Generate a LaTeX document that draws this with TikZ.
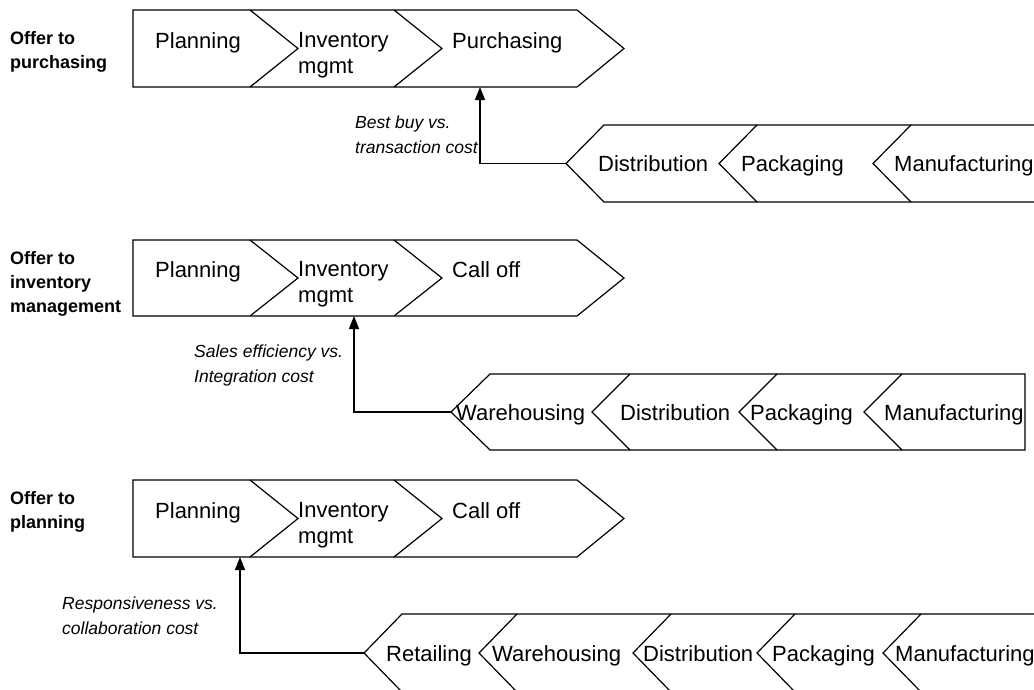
\documentclass[tikz,border=0pt]{standalone}
\usepackage{fontspec}
\setmainfont{Liberation Sans}
\usetikzlibrary{arrows.meta}

\begin{document}
\begin{tikzpicture}[x=1pt, y=-1pt,
  chain/.style={line width=1.2pt, line join=miter},
  upstage/.style={anchor=north west, inner sep=0pt, align=left, font=\fontsize{22}{26}\selectfont},
  downstage/.style={anchor=base west, inner sep=0pt, font=\fontsize{22}{26}\selectfont},
  offer/.style={anchor=north west, inner sep=0pt, align=left, font=\fontsize{18}{24}\selectfont\bfseries},
  trade/.style={anchor=north west, inner sep=0pt, align=left, font=\fontsize{17.5}{25}\selectfont\itshape},
  arr/.style={line width=1.2pt, -{Triangle[width=10pt,length=13pt]}}]
\useasboundingbox (0,0) rectangle (1034,689);
\clip (0,0) rectangle (1034,689);

% Row 1: offer to purchasing
\node[offer] (off1) at (10,31) {Offer to\\purchasing};
\draw[chain] (133,10) -- (577,10) -- (624,48.5) -- (577,87) -- (133,87) -- cycle;
\foreach \x in {250,394}
  \draw[chain] (\x,10) -- ++(48,38.5) -- ++(-48,38.5);
\node[upstage] (plan1) at (155,32) {Planning};
\node[upstage] (inv1) at (298,32) {Inventory\\mgmt};
\node[upstage] (purch1) at (452,32) {Purchasing};

\draw[chain] (1040,125) -- (604,125) -- (566,163.5) -- (604,202) -- (1040,202);
\foreach \x in {757,911}
  \draw[chain] (\x,125) -- ++(-38,38.5) -- ++(38,38.5);
\node[downstage] (dist1) at (598,171) {Distribution};
\node[downstage] (pack1) at (741,171) {Packaging};
\node[downstage] (manu1) at (894,171) {Manufacturing};

\coordinate (tip1) at (566,163.5);
\coordinate (hit1) at (480,87);
\draw[arr] (tip1) -| (hit1);
\node[trade] (cost1) at (355,116) {Best buy vs.\\transaction cost};

% Row 2: offer to inventory management
\node[offer] (off2) at (10,251) {Offer to\\inventory\\management};
\draw[chain] (133,240) -- (577,240) -- (624,278) -- (577,316) -- (133,316) -- cycle;
\foreach \x in {250,394}
  \draw[chain] (\x,240) -- ++(48,38) -- ++(-48,38);
\node[upstage] (plan2) at (155,261) {Planning};
\node[upstage] (inv2) at (298,261) {Inventory\\mgmt};
\node[upstage] (call2) at (452,261) {Call off};

\draw[chain] (1025,374) -- (490,374) -- (451,412) -- (490,450) -- (1025,450) -- cycle;
\foreach \x in {630,777,902}
  \draw[chain] (\x,374) -- ++(-38,38) -- ++(38,38);
\node[downstage] (ware2) at (456,420) {Warehousing};
\node[downstage] (dist2) at (620,420) {Distribution};
\node[downstage] (pack2) at (750,420) {Packaging};
\node[downstage] (manu2) at (884,420) {Manufacturing};

\coordinate (tip2) at (451,412);
\coordinate (hit2) at (354,316);
\draw[arr] (tip2) -| (hit2);
\node[trade] (cost2) at (194,345) {Sales efficiency vs.\\Integration cost};

% Row 3: offer to planning
\node[offer] (off3) at (10,491) {Offer to\\planning};
\draw[chain] (133,480) -- (577,480) -- (624,518.5) -- (577,557) -- (133,557) -- cycle;
\foreach \x in {250,394}
  \draw[chain] (\x,480) -- ++(48,38.5) -- ++(-48,38.5);
\node[upstage] (plan3) at (155,502) {Planning};
\node[upstage] (inv3) at (298,502) {Inventory\\mgmt};
\node[upstage] (call3) at (452,502) {Call off};

\draw[chain] (1040,614) -- (402,614) -- (364,653) -- (402,692) -- (1040,692);
\foreach \x in {517,671,795,921}
  \draw[chain] (\x,614) -- ++(-38,39) -- ++(38,39);
\node[downstage] (ret3) at (386,661) {Retailing};
\node[downstage] (ware3) at (492,661) {Warehousing};
\node[downstage] (dist3) at (643,661) {Distribution};
\node[downstage] (pack3) at (772,661) {Packaging};
\node[downstage] (manu3) at (895,661) {Manufacturing};

\coordinate (tip3) at (364,653);
\coordinate (hit3) at (240,557);
\draw[arr] (tip3) -| (hit3);
\node[trade] (cost3) at (62,597) {Responsiveness vs.\\collaboration cost};
\end{tikzpicture}
\end{document}
